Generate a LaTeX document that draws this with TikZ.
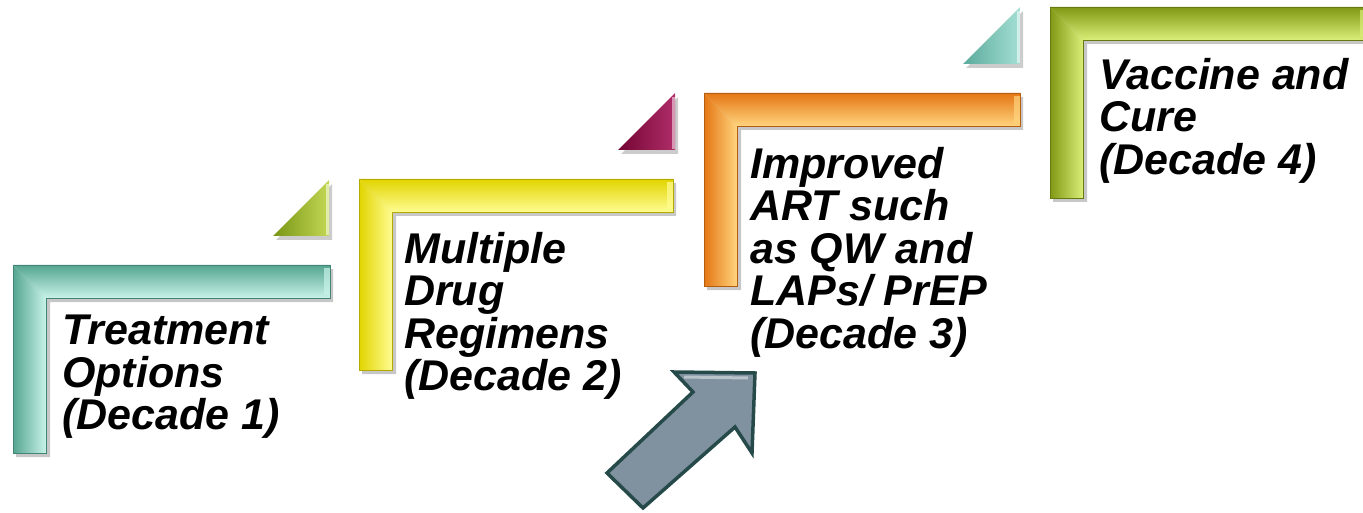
\documentclass[tikz,border=0pt]{standalone}
\usepackage{fontspec}
\setmainfont{Liberation Sans}
\definecolor{tealD}{RGB}{85,165,145}
\definecolor{tealM}{RGB}{125,206,186}
\definecolor{tealL}{RGB}{200,242,232}
\definecolor{yelD}{RGB}{225,212,0}
\definecolor{yelM}{RGB}{250,240,5}
\definecolor{yelL}{RGB}{255,252,145}
\definecolor{oraD}{RGB}{228,118,20}
\definecolor{oraM}{RGB}{247,145,38}
\definecolor{oraL}{RGB}{255,212,125}
\definecolor{grnD}{RGB}{128,152,20}
\definecolor{grnM}{RGB}{165,190,38}
\definecolor{grnL}{RGB}{218,238,120}
\definecolor{oliD}{RGB}{120,150,20}
\definecolor{oliL}{RGB}{195,215,85}
\definecolor{marD}{RGB}{115,5,50}
\definecolor{marL}{RGB}{175,45,105}
\definecolor{ttrD}{RGB}{90,170,155}
\definecolor{ttrL}{RGB}{165,222,212}
\definecolor{arrFill}{RGB}{128,146,160}
\definecolor{arrEdge}{RGB}{38,74,74}
\newcommand\stepL[8]{% x0,y0,x1,y2,dark,mid,light,name
  \fill[black,opacity=.22] (#1+3,#2+4) -- (#3+3,#2+4) -- (#3+3,#2+37) -- (#1+37,#2+37) -- (#1+37,#4+4) -- (#1+3,#4+4) -- cycle;
  \shade[top color=#5,middle color=#6,bottom color=#7] (#1,#2) -- (#3,#2) -- (#3,#2+33) -- (#1+33,#2+33) -- cycle;
  \shade[left color=#5,middle color=#6,right color=#7] (#1,#2) -- (#1+33,#2+33) -- (#1+33,#4) -- (#1,#4) -- cycle;
  \fill[#7,opacity=.7] (#3-6,#2+3) -- (#3,#2+3) -- (#3,#2+30) -- (#3-6,#2+30) -- cycle;
  \draw[#5!80!black,line width=.6] (#1,#2) -- (#3,#2) -- (#3,#2+33) -- (#1+33,#2+33) -- (#1+33,#4) -- (#1,#4) -- cycle;
  \coordinate (#8) at (#1,#2);
}
\newcommand\triA[6]{% xleft,ybottom,size,dark,light,name
  \fill[black,opacity=.2] (#1+3,#2+4) -- (#1+#3+3,#2+4) -- (#1+#3+3,#2-#3+4) -- cycle;
  \shade[left color=#4,right color=#5] (#1,#2) -- (#1+#3,#2) -- (#1+#3,#2-#3) -- cycle;
  \draw[#5!50!white,line width=2.2] (#1+#3-1.5,#2-#3+4) -- (#1+#3-1.5,#2-1);
  \coordinate (#6) at (#1+#3,#2);
}
\tikzset{lbl/.style={anchor=north west,inner sep=0pt,align=left,
  font=\fontsize{43}{42.5}\selectfont\bfseries\itshape}}
\begin{document}
\begin{tikzpicture}[x=1pt,y=-1pt]
\useasboundingbox (0,0) rectangle (1363,513);
% steps
\stepL{13}{265}{330}{453}{tealD}{tealM}{tealL}{s1}
\stepL{359}{179}{673}{370}{yelD}{yelM}{yelL}{s2}
\stepL{704}{93}{1020}{286}{oraD}{oraM}{oraL}{s3}
\stepL{1050}{7}{1366}{198}{grnD}{grnM}{grnL}{s4}
% triangles
\triA{273}{236}{56}{oliD}{oliL}{tr1}
\triA{618}{150}{57}{marD}{marL}{tr2}
\triA{963}{64}{57}{ttrD}{ttrL}{tr3}
% texts
\node[lbl] (t1) at (62,315) {Treatment\\Options\\(Decade 1)};
\node[lbl] (t2) at (404,232) {Multiple\\Drug\\Regimens\\(Decade 2)};
\node[lbl] (t3) at (750,147) {Improved\\ART such\\as QW and\\LAPs/ PrEP\\(Decade 3)};
\node[lbl] (t4) at (1099,58) {Vaccine and\\Cure\\(Decade 4)};
% arrow
\fill[arrFill,draw=arrEdge,line width=3.5,line join=miter]
  (755,373) -- (674,372) -- (693,392) -- (607,473) -- (643,508) -- (735,427) -- (752,453) -- cycle;
\draw[white,opacity=.45,line width=3] (684,377) -- (748,378);
\end{tikzpicture}
\end{document}
